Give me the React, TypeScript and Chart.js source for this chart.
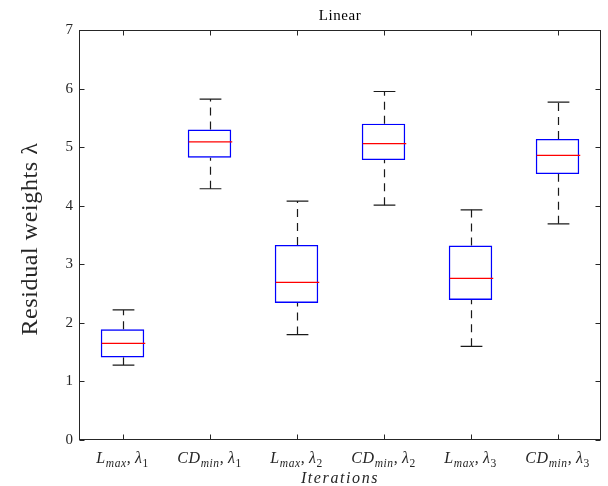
import { useEffect, useRef } from 'react';
import { Chart, registerables } from 'chart.js';

Chart.register(...registerables);

// Group names; "_xxx" marks a subscript
const categories = ['L_max, λ_1', 'CD_min, λ_1', 'L_max, λ_2', 'CD_min, λ_2', 'L_max, λ_3', 'CD_min, λ_3'];

// Five-number summaries for each group
const whiskerLow = [1.28, 4.29, 1.8, 4.01, 1.6, 3.69];
const quartile1 = [1.41, 4.82, 2.34, 4.78, 2.39, 4.54];
const medians = [1.65, 5.09, 2.69, 5.06, 2.76, 4.86];
const quartile3 = [1.89, 5.3, 3.33, 5.4, 3.32, 5.14];
const whiskerHigh = [2.22, 5.82, 4.08, 5.95, 3.93, 5.77];

const yTicks = [0, 1, 2, 3, 4, 5, 6, 7];

const titleText = 'Linear';
const xTitle = 'Iterations';
const yTitle = 'Residual weights λ';

const SERIF = '"Liberation Serif", "DejaVu Serif", serif';
const AXIS_COLOR = '#262626';

type Seg = { text: string; sub: boolean; italic: boolean };

// Split a label into runs: letters italic (math style), punctuation upright, "_xxx" lowered
function parseLabel(label: string): Seg[] {
  const segs: Seg[] = [];
  const parts = label.split(/(_[A-Za-z0-9]+)/).filter((p) => p.length > 0);
  for (const p of parts) {
    if (p.startsWith('_')) {
      const body = p.slice(1);
      segs.push({ text: body, sub: true, italic: /[A-Za-z]/.test(body) });
    } else {
      for (const ch of p) {
        const italic = /[A-Za-zλ]/.test(ch);
        const last = segs[segs.length - 1];
        if (last && !last.sub && last.italic === italic) last.text += ch;
        else segs.push({ text: ch, sub: false, italic });
      }
    }
  }
  return segs;
}

function drawMathLabel(ctx: CanvasRenderingContext2D, label: string, cx: number, baseline: number, size: number) {
  const segs = parseLabel(label);
  const subSize = size * 0.72;
  const fontFor = (s: Seg) => `${s.italic ? 'italic ' : ''}${s.sub ? subSize : size}px ${SERIF}`;
  (ctx as any).letterSpacing = '0.6px';
  let total = 0;
  const widths = segs.map((s) => {
    ctx.font = fontFor(s);
    const w = ctx.measureText(s.text).width - (s.text === ', ' ? 1 : 0);
    total += w;
    return w;
  });
  let x = cx - total / 2;
  ctx.textAlign = 'left';
  ctx.textBaseline = 'alphabetic';
  segs.forEach((s, i) => {
    ctx.font = fontFor(s);
    ctx.fillText(s.text, x, baseline + (s.sub ? size * 0.22 : 0));
    x += widths[i];
  });
  (ctx as any).letterSpacing = '0px';
}

const boxDecor = {
  id: 'boxDecor',
  beforeDraw(chart: Chart) {
    const { ctx, width, height } = chart;
    ctx.save();
    ctx.fillStyle = '#ffffff';
    ctx.fillRect(0, 0, width, height);
    ctx.restore();
  },
  afterDatasetsDraw(chart: Chart) {
    const { ctx } = chart;
    const x = chart.scales.x;
    const y = chart.scales.y;
    const band = x.getPixelForValue(1) - x.getPixelForValue(0);
    const capHalf = band * 0.125;
    const boxHalf = band * 0.25;
    ctx.save();
    categories.forEach((_, i) => {
      const cx = Math.round(x.getPixelForValue(i)) + 0.5;
      const yHi = y.getPixelForValue(whiskerHigh[i]);
      const yQ3 = y.getPixelForValue(quartile3[i]);
      const yQ1 = y.getPixelForValue(quartile1[i]);
      const yLo = y.getPixelForValue(whiskerLow[i]);
      const yMed = y.getPixelForValue(medians[i]);

      // dashed whiskers, each drawn upward
      ctx.strokeStyle = '#1a1a1a';
      ctx.lineWidth = 1.2;
      ctx.setLineDash([8, 6]);
      ctx.beginPath();
      ctx.moveTo(cx, yQ3);
      ctx.lineTo(cx, yHi);
      ctx.stroke();
      ctx.beginPath();
      ctx.moveTo(cx, yLo);
      ctx.lineTo(cx, yQ1);
      ctx.stroke();

      // whisker caps
      ctx.setLineDash([]);
      ctx.beginPath();
      ctx.moveTo(cx - capHalf, yHi);
      ctx.lineTo(cx + capHalf, yHi);
      ctx.moveTo(cx - capHalf, yLo);
      ctx.lineTo(cx + capHalf, yLo);
      ctx.stroke();

      // median
      ctx.strokeStyle = '#ff0000';
      ctx.lineWidth = 1.2;
      ctx.beginPath();
      ctx.moveTo(cx - boxHalf, yMed);
      ctx.lineTo(cx + boxHalf, yMed);
      ctx.stroke();
    });
    ctx.restore();
  },
  afterDraw(chart: Chart) {
    const { ctx, chartArea: a } = chart;
    const x = chart.scales.x;
    const y = chart.scales.y;
    const tick = 5;
    ctx.save();

    // axes frame
    ctx.strokeStyle = AXIS_COLOR;
    ctx.lineWidth = 1;
    const L = Math.round(a.left) + 0.5;
    const R = Math.round(a.right) - 0.5;
    const T = Math.round(a.top) + 0.5;
    const B = Math.round(a.bottom) - 0.5;
    ctx.strokeRect(L, T, R - L, B - T);

    // inward tick marks on all four sides
    ctx.beginPath();
    yTicks.forEach((v) => {
      const py = Math.round(y.getPixelForValue(v)) + 0.5;
      ctx.moveTo(L, py);
      ctx.lineTo(L + tick, py);
      ctx.moveTo(R, py);
      ctx.lineTo(R - tick, py);
    });
    categories.forEach((_, i) => {
      const px = Math.round(x.getPixelForValue(i)) + 0.5;
      ctx.moveTo(px, B);
      ctx.lineTo(px, B - tick);
      ctx.moveTo(px, T);
      ctx.lineTo(px, T + tick);
    });
    ctx.stroke();

    ctx.fillStyle = AXIS_COLOR;

    // y tick labels
    ctx.font = `15px ${SERIF}`;
    ctx.textAlign = 'right';
    ctx.textBaseline = 'middle';
    yTicks.forEach((v) => {
      ctx.fillText(String(v), a.left - 6, y.getPixelForValue(v));
    });

    // x tick labels
    categories.forEach((c, i) => {
      drawMathLabel(ctx, c, x.getPixelForValue(i), a.bottom + 23, 16);
    });

    // axis titles
    ctx.font = `italic 16px ${SERIF}`;
    (ctx as any).letterSpacing = '1.6px';
    ctx.textAlign = 'center';
    ctx.textBaseline = 'alphabetic';
    ctx.fillText(xTitle, (a.left + a.right) / 2, a.bottom + 43);
    (ctx as any).letterSpacing = '0px';

    ctx.save();
    ctx.translate(37, (a.top + a.bottom) / 2 + 4);
    ctx.rotate(-Math.PI / 2);
    ctx.font = `24px ${SERIF}`;
    (ctx as any).letterSpacing = '0.6px';
    ctx.textAlign = 'center';
    ctx.textBaseline = 'alphabetic';
    ctx.fillText(yTitle, 0, 0);
    (ctx as any).letterSpacing = '0px';
    ctx.restore();

    // title
    ctx.font = `15px ${SERIF}`;
    (ctx as any).letterSpacing = '0.6px';
    ctx.textAlign = 'center';
    ctx.textBaseline = 'alphabetic';
    ctx.fillStyle = '#000000';
    ctx.fillText(titleText, (a.left + a.right) / 2, a.top - 10);
    (ctx as any).letterSpacing = '0px';

    ctx.restore();
  },
};

export default function App() {
  const ref = useRef<HTMLCanvasElement | null>(null);

  useEffect(() => {
    if (!ref.current) return;
    const chart = new Chart(ref.current, {
      type: 'bar',
      data: {
        labels: categories,
        datasets: [
          {
            data: categories.map((_, i) => [quartile1[i], quartile3[i]]) as any,
            backgroundColor: 'rgba(0,0,0,0)',
            borderColor: '#0000ff',
            borderWidth: 1.4,
            borderSkipped: false,
            barPercentage: 0.5,
            categoryPercentage: 1,
          },
        ],
      },
      options: {
        responsive: false,
        animation: false,
        layout: { padding: { left: 79, right: 7, top: 30, bottom: 46 } },
        plugins: {
          legend: { display: false },
          tooltip: { enabled: false },
          title: { display: false },
        },
        scales: {
          x: { display: false, offset: true },
          y: { display: false, min: 0, max: 7 },
        },
      },
      plugins: [boxDecor],
    });
    return () => chart.destroy();
  }, []);

  return (
    <canvas
      ref={ref}
      width={608}
      height={486}
      style={{ position: 'absolute', left: 0, top: 0, width: 608, height: 486, display: 'block' }}
    />
  );
}
